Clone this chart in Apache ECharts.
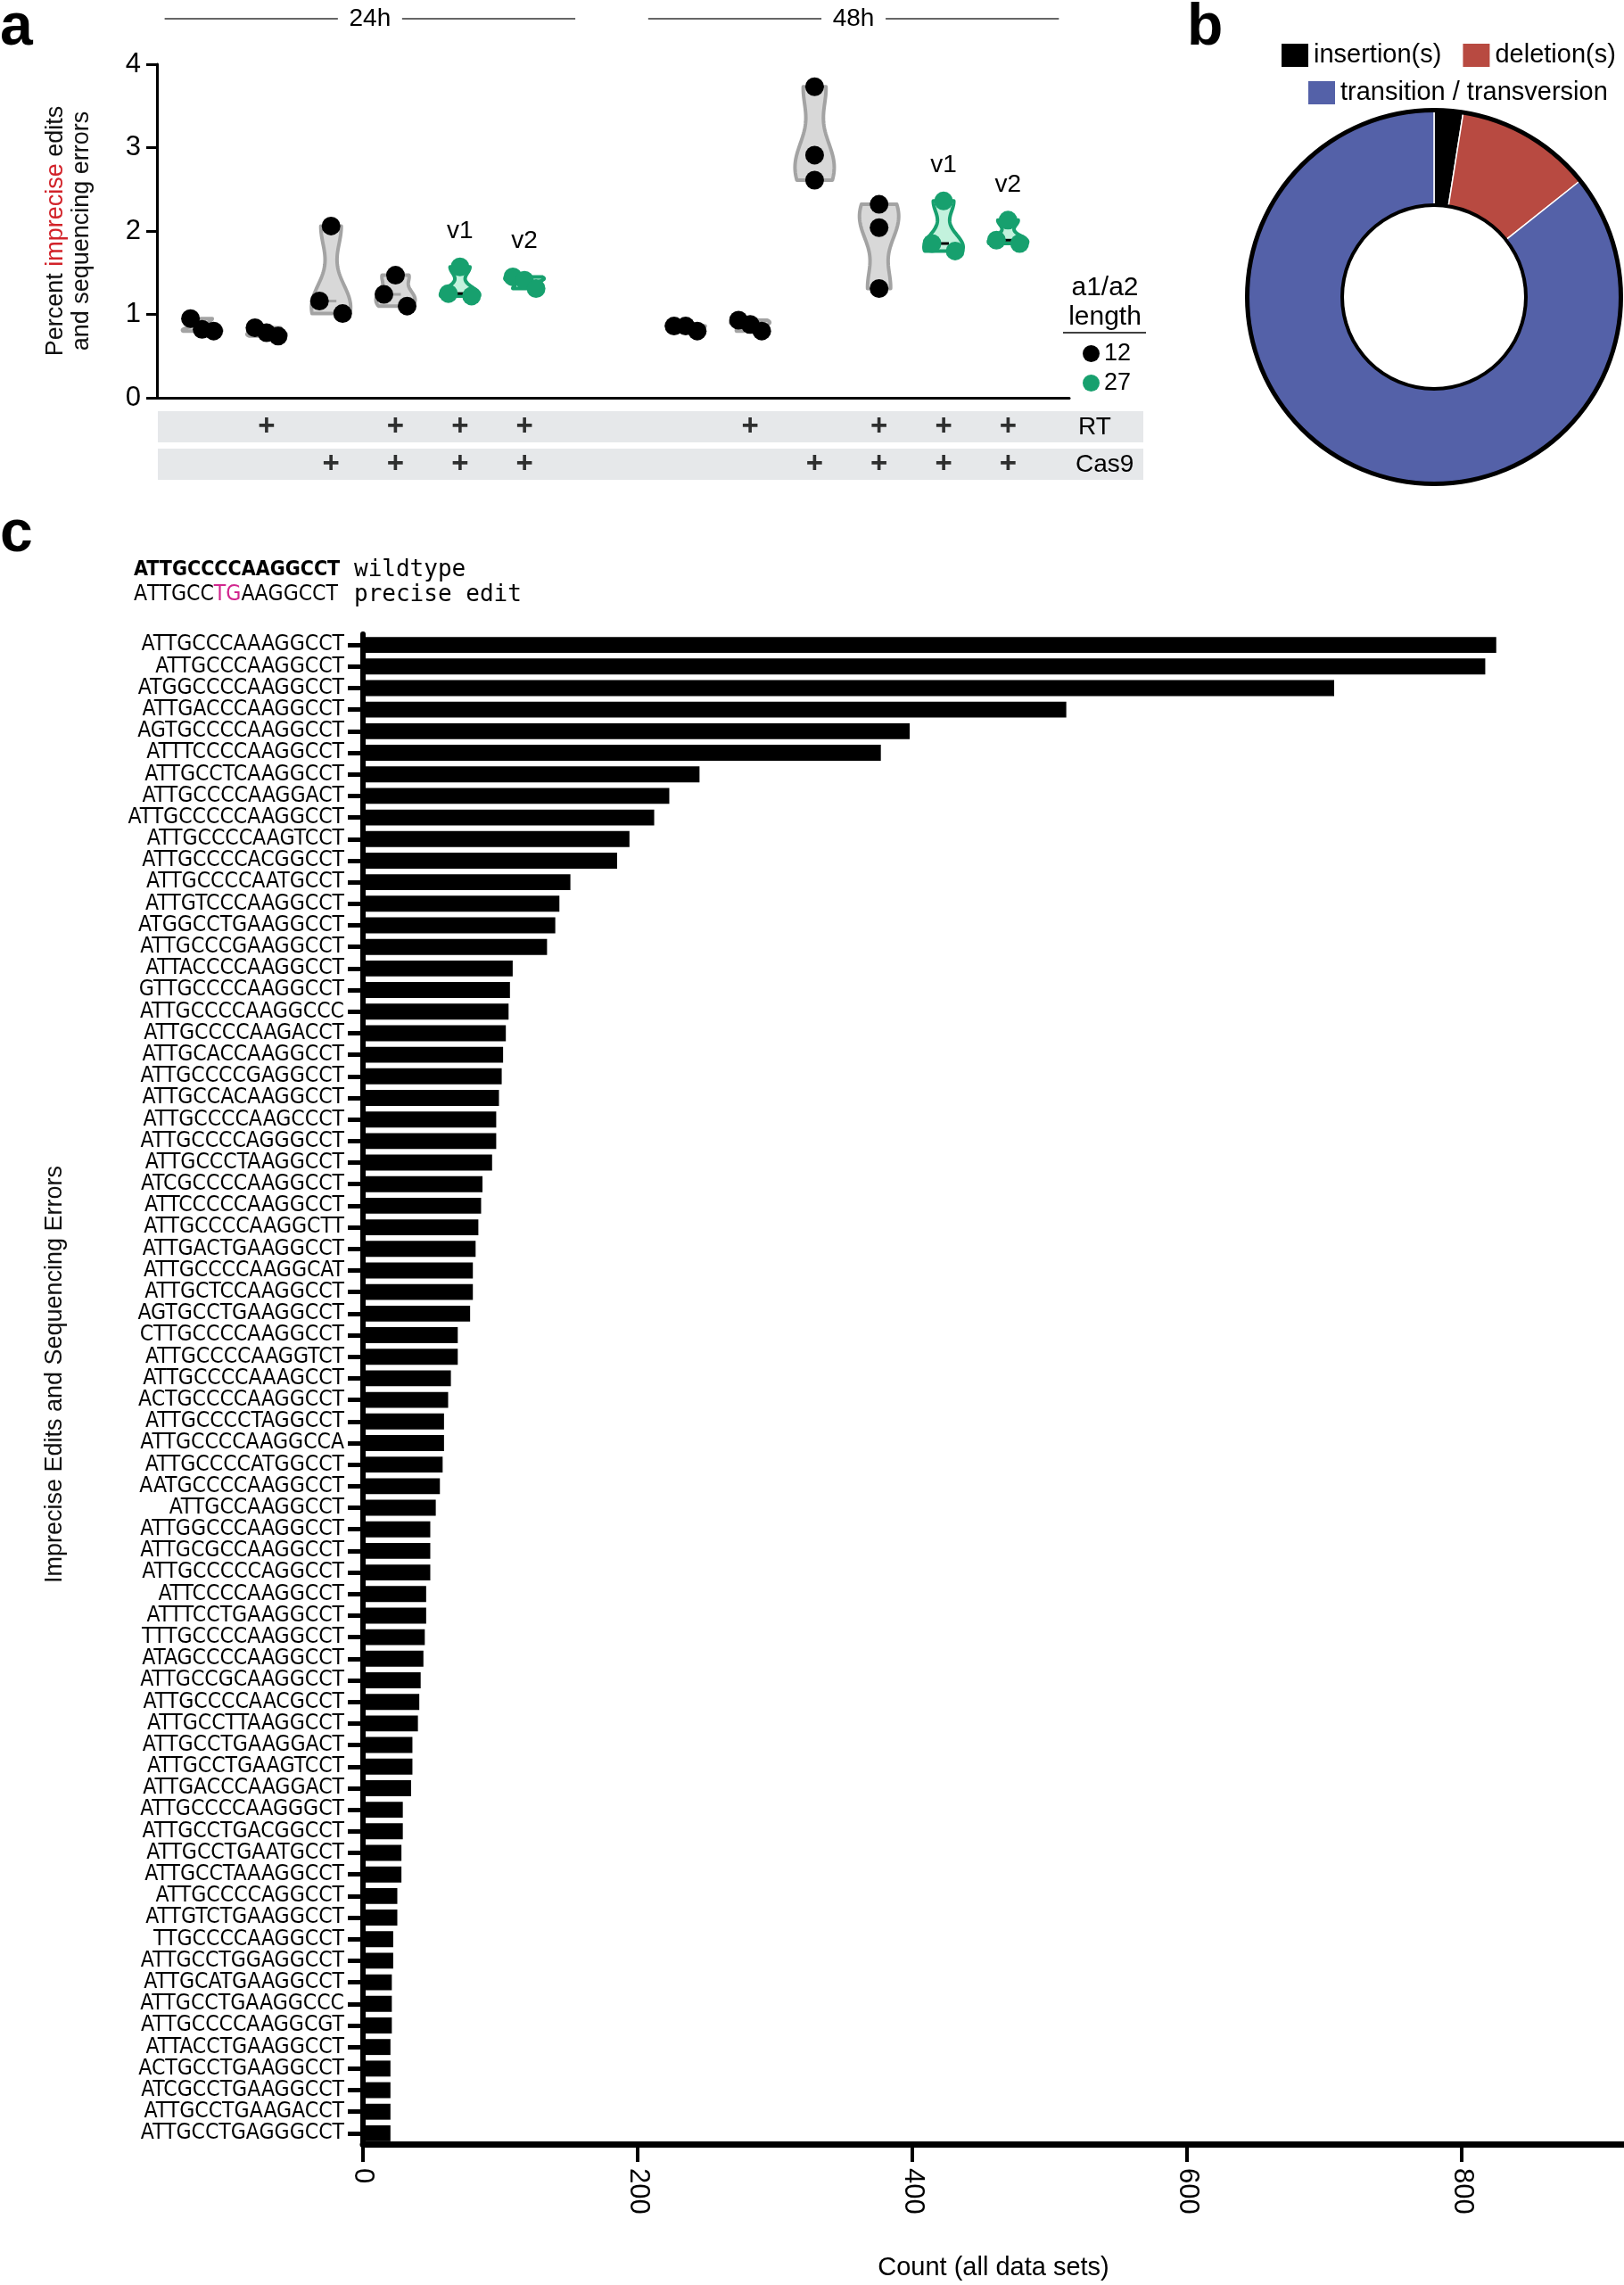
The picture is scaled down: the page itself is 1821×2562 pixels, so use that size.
<!DOCTYPE html>
<html><head><meta charset="utf-8">
<script src="https://cdn.jsdelivr.net/npm/echarts@6/dist/echarts.min.js"></script>
<style>html,body{margin:0;padding:0;background:#fff}#c{width:1821px;height:2562px}</style>
</head><body><div id="c"></div>
<script>
// ---------------- Panel a data ----------------
const timepoints = ['24h', '48h'];
const groupTime = [0,0,0,0,0,0, 1,1,1,1,1,1];
const rtPresent = [0,1,0,1,1,1, 0,1,0,1,1,1];
const cas9Present = [0,0,1,1,1,1, 0,0,1,1,1,1];
const armLength = [12,12,12,12,27,27, 12,12,12,12,27,27];
const variantLabel = ['','','','','v1','v2', '','','','','v1','v2'];
const replicateValues = [
  [0.95, 0.82, 0.80],
  [0.84, 0.78, 0.74],
  [2.06, 1.16, 1.01],
  [1.47, 1.24, 1.10],
  [1.57, 1.25, 1.22],
  [1.45, 1.41, 1.31],
  [0.86, 0.86, 0.80],
  [0.93, 0.88, 0.80],
  [3.73, 2.91, 2.61],
  [2.32, 2.04, 1.31],
  [2.36, 1.85, 1.76],
  [2.13, 1.89, 1.85]
];
const armLengthLegend = ['12', '27'];
const yTicksA = [0, 1, 2, 3, 4];

// ---------------- Panel b data ----------------
const editTypes = ['insertion(s)', 'deletion(s)', 'transition / transversion'];
const editShares = [2.5, 11.8, 85.7];

// ---------------- Panel c data ----------------
const wildtypeSeq = 'ATTGCCCCAAGGCCT';
const preciseSeq = 'ATTGCCTGAAGGCCT';
const sequences = [
 'ATTGCCCAAAGGCCT','ATTGCCCAAGGCCT','ATGGCCCCAAGGCCT','ATTGACCCAAGGCCT','AGTGCCCCAAGGCCT',
 'ATTTCCCCAAGGCCT','ATTGCCTCAAGGCCT','ATTGCCCCAAGGACT','ATTGCCCCCAAGGCCT','ATTGCCCCAAGTCCT',
 'ATTGCCCCACGGCCT','ATTGCCCCAATGCCT','ATTGTCCCAAGGCCT','ATGGCCTGAAGGCCT','ATTGCCCGAAGGCCT',
 'ATTACCCCAAGGCCT','GTTGCCCCAAGGCCT','ATTGCCCCAAGGCCC','ATTGCCCCAAGACCT','ATTGCACCAAGGCCT',
 'ATTGCCCCGAGGCCT','ATTGCCACAAGGCCT','ATTGCCCCAAGCCCT','ATTGCCCCAGGGCCT','ATTGCCCTAAGGCCT',
 'ATCGCCCCAAGGCCT','ATTCCCCCAAGGCCT','ATTGCCCCAAGGCTT','ATTGACTGAAGGCCT','ATTGCCCCAAGGCAT',
 'ATTGCTCCAAGGCCT','AGTGCCTGAAGGCCT','CTTGCCCCAAGGCCT','ATTGCCCCAAGGTCT','ATTGCCCCAAAGCCT',
 'ACTGCCCCAAGGCCT','ATTGCCCCTAGGCCT','ATTGCCCCAAGGCCA','ATTGCCCCATGGCCT','AATGCCCCAAGGCCT',
 'ATTGCCAAGGCCT','ATTGGCCCAAGGCCT','ATTGCGCCAAGGCCT','ATTGCCCCCAGGCCT','ATTCCCCAAGGCCT',
 'ATTTCCTGAAGGCCT','TTTGCCCCAAGGCCT','ATAGCCCCAAGGCCT','ATTGCCGCAAGGCCT','ATTGCCCCAACGCCT',
 'ATTGCCTTAAGGCCT','ATTGCCTGAAGGACT','ATTGCCTGAAGTCCT','ATTGACCCAAGGACT','ATTGCCCCAAGGGCT',
 'ATTGCCTGACGGCCT','ATTGCCTGAATGCCT','ATTGCCTAAAGGCCT','ATTGCCCCAGGCCT','ATTGTCTGAAGGCCT',
 'TTGCCCCAAGGCCT','ATTGCCTGGAGGCCT','ATTGCATGAAGGCCT','ATTGCCTGAAGGCCC','ATTGCCCCAAGGCGT',
 'ATTACCTGAAGGCCT','ACTGCCTGAAGGCCT','ATCGCCTGAAGGCCT','ATTGCCTGAAGACCT','ATTGCCTGAGGGCCT'
];
const counts = [
 825,817,707,512,398, 377,245,223,212,194, 185,151,143,140,134, 109,107,106,104,102,
 101,99,97,97,94, 87,86,84,82,80, 80,78,69,69,64, 62,59,59,58,56,
 53,49,49,49,46, 46,45,44,42,41, 40,36,36,35,29, 29,28,28,25,25,
 22,22,21,21,21, 20,20,20,20,20
];
const countTicks = [0, 200, 400, 600, 800];

// ---------------- helpers ----------------
const GREEN = '#17a06e';
const SANS = "'Liberation Sans', Arial, sans-serif";
const COND = "'DejaVu Sans Condensed', 'Liberation Sans Narrow', 'DejaVu Sans', sans-serif";
const MONO = "'DejaVu Sans Mono', 'Liberation Mono', monospace";
const pos = i => i + 1 + groupTime[i] * 1.5;
const median = a => { const s = a.slice().sort((x, y) => x - y); return s[Math.floor(s.length / 2)]; };
function swarmOffsets(vals) {
  const idx = vals.map((v, i) => i).sort((a, b) => vals[b] - vals[a]);
  const off = new Array(vals.length).fill(0);
  const clusters = []; let cur = [idx[0]];
  for (let k = 1; k < idx.length; k++) {
    if (vals[idx[k - 1]] - vals[idx[k]] < 0.225) cur.push(idx[k]);
    else { clusters.push(cur); cur = [idx[k]]; }
  }
  clusters.push(cur);
  clusters.forEach(c => { const n = c.length; if (n > 1) { const step = 26 / (n - 1); c.forEach((j, k) => { off[j] = (k - (n - 1) / 2) * step; }); } });
  return off;
}
function dotData(len) {
  const out = [];
  replicateValues.forEach((vals, i) => {
    if (armLength[i] !== len) return;
    const off = swarmOffsets(vals);
    vals.forEach((v, j) => out.push({ value: [pos(i), v], symbolOffset: [off[j], 0] }));
  });
  return out;
}

const chart = echarts.init(document.getElementById('c'), null, { renderer: 'canvas' });

const plusLabel = { show: true, position: 'inside', formatter: '+', fontSize: 33, fontWeight: 'bold', fontFamily: SANS, color: '#000' };

const option = {
  animation: false,
  backgroundColor: '#fff',
  grid: [
    { left: 176, top: 72, width: 1023, height: 374 },
    { left: 176, top: 461, width: 1023, height: 35 },
    { left: 176, top: 503, width: 1023, height: 35 },
    { left: 407, top: 711, width: 1414, height: 1701 }
  ],
  xAxis: [
    { gridIndex: 0, type: 'value', min: 0.3, max: 14.45, axisLine: { show: true, lineStyle: { color: '#000', width: 3 } },
      axisTick: { show: false }, axisLabel: { show: false }, splitLine: { show: false } },
    { gridIndex: 1, type: 'value', min: 0.3, max: 14.45, show: false },
    { gridIndex: 2, type: 'value', min: 0.3, max: 14.45, show: false },
    { gridIndex: 3, type: 'value', min: 0, max: 918, interval: 200,
      axisLine: { show: true, lineStyle: { color: '#000', width: 7 } },
      axisTick: { show: true, length: 20, lineStyle: { color: '#000', width: 4 } },
      axisLabel: { rotate: -90, margin: 27, fontSize: 31, fontFamily: SANS, color: '#000', showMaxLabel: false,
        formatter: v => countTicks.indexOf(v) >= 0 ? String(v) : '' },
      splitLine: { show: false },
      name: 'Count (all data sets)', nameLocation: 'middle', nameGap: 124,
      nameTextStyle: { fontSize: 29, fontFamily: SANS, color: '#000' } }
  ],
  yAxis: [
    { gridIndex: 0, type: 'value', min: 0, max: 4, interval: 1,
      axisLine: { show: true, lineStyle: { color: '#000', width: 3 } },
      axisTick: { show: true, length: 12, lineStyle: { color: '#000', width: 3 } },
      axisLabel: { fontSize: 31, fontFamily: SANS, color: '#000', margin: 18,
        formatter: v => yTicksA.indexOf(v) >= 0 ? String(v) : '' },
      splitLine: { show: false },
      name: '{a|Percent }{r|imprecise}{a| edits}\n{a|and sequencing errors}',
      nameLocation: 'middle', nameRotate: 90, nameGap: 70,
      nameTextStyle: { lineHeight: 29, rich: {
        a: { fontSize: 27, fontFamily: SANS, color: '#111', lineHeight: 29 },
        r: { fontSize: 27, fontFamily: SANS, color: '#d2232a', lineHeight: 29 } } } },
    { gridIndex: 1, type: 'value', min: 0, max: 1, show: false },
    { gridIndex: 2, type: 'value', min: 0, max: 1, show: false },
    { gridIndex: 3, type: 'category', inverse: true, data: sequences,
      axisLine: { show: true, lineStyle: { color: '#000', width: 6 } },
      axisTick: { show: true, length: 17, alignWithLabel: true, lineStyle: { color: '#000', width: 5 } },
      axisLabel: { interval: 0, fontSize: 24.5, fontFamily: COND, color: '#000', margin: 21 } }
  ],
  legend: [
    { data: armLengthLegend, orient: 'vertical', left: 1209, top: 378, icon: 'circle', itemWidth: 19, itemHeight: 19,
      itemGap: 6, selectedMode: false, textStyle: { fontSize: 27, fontFamily: SANS, color: '#000' } },
    { data: editTypes.slice(0, 2), left: 1430, top: 42, icon: 'rect', itemWidth: 32, itemHeight: 28, itemGap: 22,
      selectedMode: false, textStyle: { fontSize: 29, fontFamily: SANS, color: '#000' } },
    { data: editTypes.slice(2), left: 1460, top: 84, icon: 'rect', itemWidth: 32, itemHeight: 28,
      selectedMode: false, textStyle: { fontSize: 29, fontFamily: SANS, color: '#000' } }
  ],
  series: [
    { type: 'custom', name: 'violins', xAxisIndex: 0, yAxisIndex: 0, z: 1, clip: false, silent: true,
      data: replicateValues.map((v, i) => [pos(i), Math.min(...v), Math.max(...v), i]),
      encode: { x: 0, y: [1, 2] },
      renderItem: function (params, api) {
        const gi = api.value(3);
        const vals = replicateValues[gi];
        const lo = Math.min(...vals), hi = Math.max(...vals);
        const rng = Math.max(hi - lo, 1e-6);
        const bw = Math.max(rng * 0.26, 0.02);
        const N = 48, ys = [], ds = [];
        for (let k = 0; k <= N; k++) {
          const y = lo + rng * k / N; let d = 0;
          vals.forEach(v => { const z = (y - v) / bw; d += Math.exp(-0.5 * z * z); });
          ys.push(y); ds.push(d);
        }
        const dmax = Math.max(...ds);
        const xv = api.value(0);
        const xc = api.coord([xv, lo])[0];
        const halfMax = 22;
        const right = [], left = [];
        for (let k = 0; k <= N; k++) {
          const py = api.coord([xv, ys[k]])[1];
          const w = halfMax * ds[k] / dmax;
          right.push([xc + w, py]); left.push([xc - w, py]);
        }
        const pts = right.concat(left.reverse());
        const green = armLength[gi] === 27;
        const pm = api.coord([xv, median(vals)]);
        const pTop = api.coord([xv, hi]);
        const children = [
          { type: 'polygon', shape: { points: pts },
            style: { fill: green ? '#c3f2dd' : '#d8d8d8', stroke: green ? GREEN : '#a3a3a3', lineWidth: 4, lineJoin: 'round' } },
          { type: 'line', shape: { x1: xc - 6, y1: pm[1], x2: xc + 6, y2: pm[1] },
            style: { stroke: green ? '#000' : '#a3a3a3', lineWidth: 3 } }
        ];
        if (variantLabel[gi]) {
          children.push({ type: 'text', x: xc, y: pTop[1] - 40,
            style: { text: variantLabel[gi], fill: '#000', font: '28px ' + SANS, align: 'center', verticalAlign: 'middle' } });
        }
        return { type: 'group', children: children };
      } },
    { type: 'scatter', name: '12', xAxisIndex: 0, yAxisIndex: 0, z: 3, symbol: 'circle', symbolSize: 21,
      itemStyle: { color: '#000', opacity: 1 }, data: dotData(12), silent: true },
    { type: 'scatter', name: '27', xAxisIndex: 0, yAxisIndex: 0, z: 3, symbol: 'circle', symbolSize: 21,
      itemStyle: { color: GREEN, opacity: 1 }, data: dotData(27), silent: true },
    { type: 'scatter', name: 'RT', xAxisIndex: 1, yAxisIndex: 1, z: 3, symbolSize: 1, silent: true,
      itemStyle: { color: 'rgba(0,0,0,0)' }, label: plusLabel,
      data: rtPresent.map((p, i) => p ? [pos(i), 0.5] : null).filter(d => d) },
    { type: 'scatter', name: 'Cas9', xAxisIndex: 2, yAxisIndex: 2, z: 3, symbolSize: 1, silent: true,
      itemStyle: { color: 'rgba(0,0,0,0)' }, label: plusLabel,
      data: cas9Present.map((p, i) => p ? [pos(i), 0.5] : null).filter(d => d) },
    { type: 'pie', name: 'edit types', center: [1608, 333], radius: [103, 210], startAngle: 90, clockwise: true,
      label: { show: false }, labelLine: { show: false }, silent: true,
      itemStyle: { borderColor: '#fff', borderWidth: 1.5 },
      data: editTypes.map((n, i) => ({ name: n, value: editShares[i],
        itemStyle: { color: ['#000000', '#b84a41', '#5461a8'][i] } })) },
    { type: 'pie', name: 'outer ring', center: [1608, 333], radius: [207, 212], silent: true,
      label: { show: false }, labelLine: { show: false }, itemStyle: { color: '#000' }, data: [{ name: 'ring1', value: 1 }] },
    { type: 'pie', name: 'inner ring', center: [1608, 333], radius: [101, 105], silent: true,
      label: { show: false }, labelLine: { show: false }, itemStyle: { color: '#000' }, data: [{ name: 'ring2', value: 1 }] },
    { type: 'bar', name: 'counts', xAxisIndex: 3, yAxisIndex: 3, data: counts, barCategoryGap: '26%',
      itemStyle: { color: '#000' }, silent: true }
  ]
};
chart.setOption(option);

// ---------- annotations positioned from the axes ----------
const g = [];
const toPx = (x, y) => chart.convertToPixel({ gridIndex: 0 }, [x, y]);
// panel letters
g.push({ type: 'text', x: 0, y: 32, style: { text: 'a', font: 'bold 66px ' + SANS, fill: '#000', verticalAlign: 'middle' } });
g.push({ type: 'text', x: 1331, y: 32, style: { text: 'b', font: 'bold 66px ' + SANS, fill: '#000', verticalAlign: 'middle' } });
g.push({ type: 'text', x: 0, y: 600, style: { text: 'c', font: 'bold 66px ' + SANS, fill: '#000', verticalAlign: 'middle' } });
// time brackets
timepoints.forEach((t, ti) => {
  const idxs = groupTime.map((gt, i) => gt === ti ? i : -1).filter(i => i >= 0);
  const x0 = toPx(pos(idxs[0]), 0)[0] - 42;
  const x1 = toPx(pos(idxs[idxs.length - 1]), 0)[0] + 57;
  const xc = (x0 + x1) / 2, y = 21;
  g.push({ type: 'line', shape: { x1: x0, y1: y, x2: xc - 36, y2: y }, style: { stroke: '#333', lineWidth: 1.5 } });
  g.push({ type: 'line', shape: { x1: xc + 36, y1: y, x2: x1, y2: y }, style: { stroke: '#333', lineWidth: 1.5 } });
  g.push({ type: 'text', x: xc, y: y, style: { text: t, font: '28px ' + SANS, fill: '#000', align: 'center', verticalAlign: 'middle' } });
});
// condition bands
g.push({ type: 'rect', z: -1, shape: { x: 177, y: 461, width: 1105, height: 35 }, style: { fill: '#e6e8ea' } });
g.push({ type: 'rect', z: -1, shape: { x: 177, y: 503, width: 1105, height: 35 }, style: { fill: '#e6e8ea' } });
g.push({ type: 'text', x: 1209, y: 479, style: { text: 'RT', font: '28px ' + SANS, fill: '#000', verticalAlign: 'middle' } });
g.push({ type: 'text', x: 1206, y: 521, style: { text: 'Cas9', font: '28px ' + SANS, fill: '#000', verticalAlign: 'middle' } });
// arm-length legend title
g.push({ type: 'text', x: 1239, y: 323, style: { text: 'a1/a2', font: '30px ' + SANS, fill: '#000', align: 'center', verticalAlign: 'middle' } });
g.push({ type: 'text', x: 1239, y: 356, style: { text: 'length', font: '30px ' + SANS, fill: '#000', align: 'center', verticalAlign: 'middle' } });
g.push({ type: 'line', shape: { x1: 1192, y1: 373, x2: 1285, y2: 373 }, style: { stroke: '#000', lineWidth: 1.5 } });
// panel c y-axis title
g.push({ type: 'text', x: 62, y: 1541, rotation: Math.PI / 2,
  style: { text: 'Imprecise Edits and Sequencing Errors', font: '27px ' + SANS, fill: '#111', align: 'center', verticalAlign: 'middle' } });
// panel c header sequences
let rich = '';
for (let k = 0; k < preciseSeq.length; k++) {
  const ch = preciseSeq[k];
  rich += (ch !== wildtypeSeq[k] ? '{h|' : '{n|') + ch + '}';
}
g.push({ type: 'text', x: 150, y: 639, style: { text: wildtypeSeq, font: 'bold 23px ' + COND, fill: '#000', verticalAlign: 'middle' } });
g.push({ type: 'text', x: 150, y: 667, style: { text: rich, verticalAlign: 'middle',
  rich: { n: { font: '24.5px ' + COND, fill: '#000' }, h: { font: '24.5px ' + COND, fill: '#d1268e' } } } });
g.push({ type: 'text', x: 397, y: 639, style: { text: 'wildtype', font: '26px ' + MONO, fill: '#000', verticalAlign: 'middle' } });
g.push({ type: 'text', x: 397, y: 667, style: { text: 'precise edit', font: '26px ' + MONO, fill: '#000', verticalAlign: 'middle' } });

chart.setOption({ graphic: { elements: g } });
</script>
</body></html>
